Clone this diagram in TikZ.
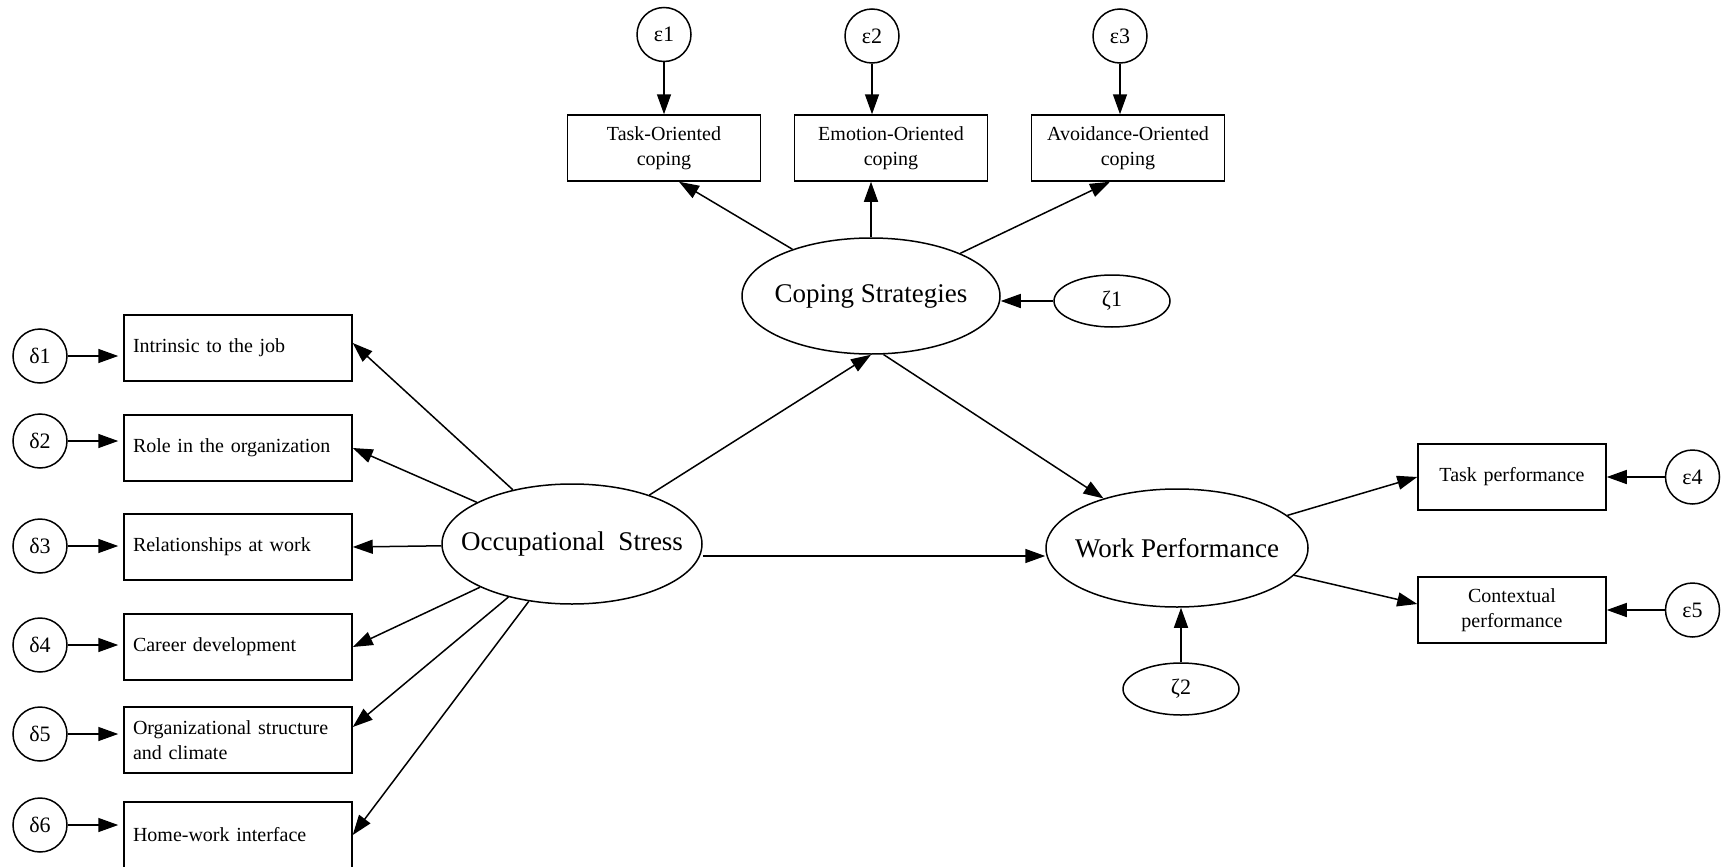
\documentclass[tikz,border=0pt]{standalone}
\usepackage{fontspec}
\setmainfont{Liberation Serif}
\usetikzlibrary{positioning,arrows.meta,calc,shapes.geometric}
\tikzset{
    item/.style={draw, line width=1.5pt, minimum height=66pt, font=\fontsize{20}{25}\selectfont, inner xsep=9pt},
    leftitem/.style={item, align=left, text width=210pt},
    topitem/.style={item, align=center, text width=175pt},
    rightitem/.style={item, align=center, text width=170pt},
    latent/.style={draw, ellipse, line width=1.5pt, inner xsep=-60pt, inner ysep=-10pt, font=\fontsize{27}{30}\selectfont},
    err/.style={draw, circle, line width=1.5pt, minimum size=54pt, inner sep=0pt, font=\fontsize{22}{24}\selectfont},
    dist/.style={draw, ellipse, line width=1.5pt, minimum width=116pt, minimum height=52pt, inner sep=0pt, font=\fontsize{22}{24}\selectfont},
    arrow/.style={-{Triangle[length=20pt,width=14pt]}, line width=1.5pt}
}

\begin{document}
\begin{tikzpicture}[x=1pt, y=-1pt, node distance=57pt]
\useasboundingbox (0,0) rectangle (1722,867);
% stressors
\node[leftitem] (job) at (238,348) {Intrinsic to the job};
\node[leftitem] (role) at (238,448) {Role in the organization};
\node[leftitem] (rel) at (238,547) {Relationships at work};
\node[leftitem] (career) at (238,647) {Career development};
\node[leftitem] (org) at (238,740) {Organizational structure\\and climate};
\node[leftitem] (home) at (238,835) {Home-work interface};
\node[err] (d1) at (40,356) {δ1};
\node[err] (d2) at (40,441) {δ2};
\node[err] (d3) at (40,546) {δ3};
\node[err] (d4) at (40,645) {δ4};
\node[err] (d5) at (40,734) {δ5};
\node[err] (d6) at (40,825) {δ6};
% latent variables
\node[latent, minimum width=260pt, minimum height=120pt] (occ) at (572,544) {Occupational~ Stress};
\node[latent, minimum width=258pt, minimum height=116pt] (cope) at (871,296) {Coping Strategies};
\node[latent, minimum width=262pt, minimum height=118pt] (work) at (1177,548) {Work Performance};
\node[dist] (zeta1) at (1112,301) {ζ1};
\node[dist] (zeta2) at (1181,689) {ζ2};
% coping
\node[topitem] (task) at (664,148) {Task-Oriented\\coping};
\node[topitem] (emo) at (891,148) {Emotion-Oriented\\coping};
\node[topitem] (avoid) at (1128,148) {Avoidance-Oriented\\coping};
\node[err, above=52pt of task] (eps1) {ε1};
\node[err] (eps2) at (872,36) {ε2};
\node[err] (eps3) at (1120,36) {ε3};
% performance
\node[rightitem] (taskp) at (1512,477) {Task performance};
\node[rightitem] (ctx) at (1512,610) {Contextual\\performance};
\node[err, right=58pt of taskp] (eps4) {ε4};
\node[err, right=58pt of ctx] (eps5) {ε5};

\draw[arrow, shorten >=5pt] (d1) -- (d1 -| job.west);
\draw[arrow, shorten >=5pt] (d2) -- (d2 -| role.west);
\draw[arrow, shorten >=5pt] (d3) -- (d3 -| rel.west);
\draw[arrow, shorten >=5pt] (d4) -- (d4 -| career.west);
\draw[arrow, shorten >=5pt] (d5) -- (d5 -| org.west);
\draw[arrow, shorten >=5pt] (d6) -- (d6 -| home.west);
\draw[arrow] (occ) -- ([yshift=5pt]job.east);
\draw[arrow] (occ) -- (role.east);
\draw[arrow] (occ) -- (rel.east);
\draw[arrow] (occ) -- (career.east);
\draw[arrow] (occ) -- ([yshift=13pt]org.east);
\draw[arrow] (occ) -- (home.east);
\draw[arrow] (occ) -- (cope.south);
\draw[arrow] ([yshift=-12pt]occ.east) -- ([yshift=-12pt]occ.east -| work.west);
\draw[arrow] (cope) -- ([xshift=15pt]task.south);
\draw[arrow] (cope.north) -- (cope.north |- emo.south);
\draw[arrow] (cope) -- ([xshift=-18pt]avoid.south);
\draw[arrow] (cope.-78) -- (work.146);
\draw[arrow] (zeta1) -- (zeta1 -| cope.east);
\draw[arrow] (zeta2) -- (zeta2 |- work.south);
\draw[arrow] (work) -- (taskp.west);
\draw[arrow] (work) -- ([yshift=6pt]ctx.west);
\draw[arrow] (eps1) -- (task);
\draw[arrow] (eps2) -- (eps2 |- emo.north);
\draw[arrow] (eps3) -- (eps3 |- avoid.north);
\draw[arrow] (eps4) -- (taskp.east);
\draw[arrow] (eps5) -- (eps5 -| ctx.east);
\end{tikzpicture}
\end{document}
